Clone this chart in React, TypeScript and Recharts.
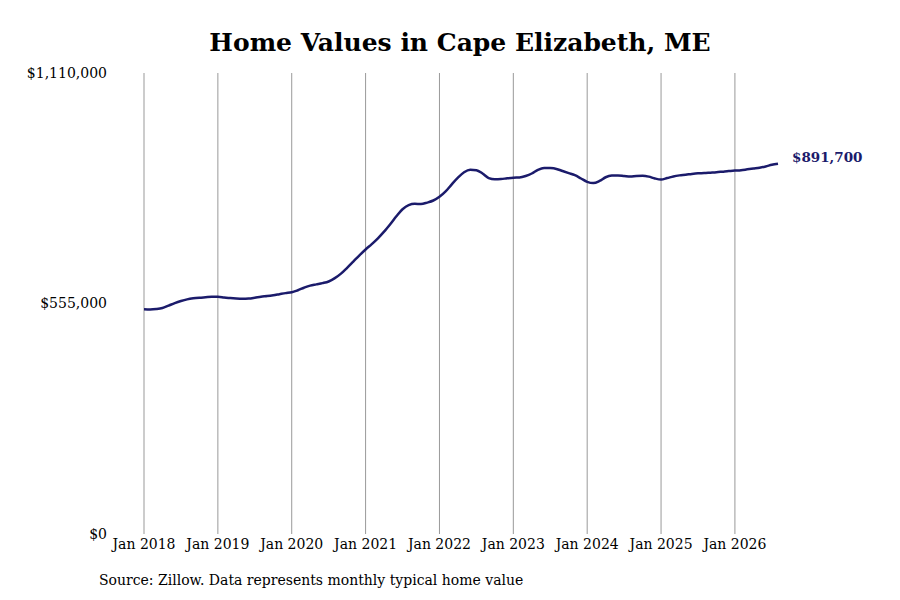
import React from "react";
import { LineChart, Line, XAxis, YAxis, CartesianGrid } from "recharts";

// monthly typical home value, Jan 2018 .. Aug 2026
const startYear = 2018;
const homeValues = [
  541000, 540500, 541500, 544000, 550000, 556000, 561000, 565000, 567500, 569000, 570000, 571000,
  571000, 569500, 568000, 567000, 566500, 567000, 569000, 571500, 573000, 575000, 577500, 580000,
  582000, 587000, 593000, 598000, 601000, 604000, 608000, 616000, 627000, 641000, 656000, 671000,
  685000, 698000, 712000, 728000, 746000, 765000, 782000, 792000, 795000, 794500, 798000, 803000,
  812000, 825000, 842000, 858000, 871000, 877000, 876000, 868000, 857000, 854000, 854500, 856500,
  858000, 858500, 862000, 868000, 877000, 881500, 881000, 879000, 874000, 869000, 864000, 856000,
  848000, 845000, 850000, 859000, 863000, 863500, 862000, 860500, 862000, 862500, 860500, 856000,
  853500, 857000, 861000, 863500, 865000, 867000, 868500, 869000, 870000, 871000, 872500, 874000,
  875000, 876000, 878000, 880000, 882000, 885000, 889000, 891700,
];
const yearTicks = [0, 12, 24, 36, 48, 60, 72, 84, 96];
const valueTicks = [0, 555000, 1110000];

const data = homeValues.map((v, i) => ({ month: i, value: v }));

const NAVY = "#1b1b6b";
const FONT = "'DejaVu Serif', serif";

const fmtMoney = (v: number) => "$" + v.toLocaleString("en-US");
const fmtMonth = (m: number) => `Jan ${startYear + Math.floor(m / 12)}`;

const EndLabel = (props: any) => {
  const { x, y, index } = props;
  if (index !== homeValues.length - 1) return null;
  return (
    <text x={x + 14} y={y - 6} dy="0.35em" fill={NAVY} fontWeight="bold" fontSize={13.5} fontFamily={FONT}>
      {fmtMoney(homeValues[index])}
    </text>
  );
};

export default function App() {
  return (
    <div style={{ position: "absolute", left: 0, top: 0, width: 900, height: 600, background: "#fff", fontFamily: FONT }}>
      <div
        style={{
          position: "absolute", left: 10, width: 900, top: 26, textAlign: "center",
          fontSize: 25, fontWeight: "bold", lineHeight: "34px",
        }}
      >
        Home Values in Cape Elizabeth, ME
      </div>
      <LineChart width={900} height={600} data={data} margin={{ top: 73, right: 122, bottom: 40, left: 84 }}>
        <CartesianGrid horizontal={false} stroke="#999" syncWithTicks />
        <XAxis
          dataKey="month"
          type="number"
          domain={[0, homeValues.length - 1]}
          ticks={yearTicks}
          tickFormatter={fmtMonth}
          axisLine={false}
          tickLine={false}
          tickSize={0}
          tickMargin={5}
          height={26}
          tick={{ fill: "#000", fontSize: 14, fontFamily: FONT }}
        />
        <YAxis
          type="number"
          domain={[0, 1110000]}
          ticks={valueTicks}
          tickFormatter={fmtMoney}
          axisLine={false}
          tickLine={false}
          tickSize={0}
          tickMargin={37}
          width={60}
          tick={{ fill: "#000", fontSize: 14, fontFamily: FONT }}
        />
        <Line
          dataKey="value"
          stroke={NAVY}
          strokeWidth={2.5}
          dot={false}
          type="monotone"
          isAnimationActive={false}
          label={<EndLabel />}
        />
      </LineChart>
      <div style={{ position: "absolute", left: 99, top: 572, fontSize: 14 }}>
        Source: Zillow. Data represents monthly typical home value
      </div>
    </div>
  );
}
